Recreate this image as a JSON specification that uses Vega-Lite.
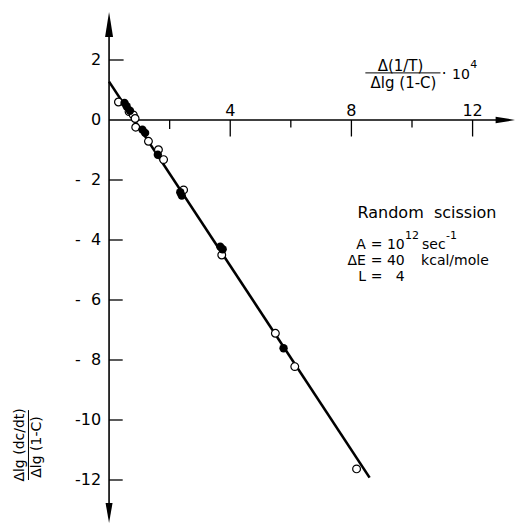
{
  "$schema": "https://vega.github.io/schema/vega-lite/v6.json",
  "width": 515,
  "height": 525,
  "padding": 0,
  "autosize": {"type": "none"},
  "background": "white",
  "config": {"view": {"stroke": null}, "font": "DejaVu Sans", "text": {"font": "DejaVu Sans", "color": "black"}},
  "datasets": {
    "axisLines": [
      {"x": 0, "y": 3.3, "x2": 0, "y2": -13.1},
      {"x": 0, "y": 0, "x2": 13.1, "y2": 0}
    ],
    "ticks": [
      {"x": 0, "y": 2, "x2": 0.48, "y2": 2},
      {"x": 0, "y": -2, "x2": 0.45, "y2": -2},
      {"x": 0, "y": -4, "x2": 0.45, "y2": -4},
      {"x": 0, "y": -6, "x2": 0.45, "y2": -6},
      {"x": 0, "y": -8, "x2": 0.45, "y2": -8},
      {"x": 0, "y": -10, "x2": 0.45, "y2": -10},
      {"x": 0, "y": -12, "x2": 0.45, "y2": -12},
      {"x": 4, "y": 0, "x2": 4, "y2": -0.55},
      {"x": 8, "y": 0, "x2": 8, "y2": -0.55},
      {"x": 12, "y": 0, "x2": 12, "y2": -0.55},
      {"x": 2, "y": 0, "x2": 2, "y2": -0.3},
      {"x": 6, "y": 0, "x2": 6, "y2": -0.25},
      {"x": 10, "y": 0, "x2": 10, "y2": -0.25}
    ],
    "fracBars": [
      {"x": 8.46, "y": 1.57, "x2": 10.94, "y2": 1.57},
      {"x": -2.66, "y": -9.67, "x2": -2.66, "y2": -12.0}
    ],
    "fitLine": [
      {"x": 0, "y": 1.28},
      {"x": 8.6, "y": -11.92}
    ],
    "openPts": [
      {"x": 0.31, "y": 0.60},
      {"x": 0.66, "y": 0.28},
      {"x": 0.80, "y": 0.17},
      {"x": 0.86, "y": 0.05},
      {"x": 0.88, "y": -0.24},
      {"x": 1.30, "y": -0.71},
      {"x": 1.63, "y": -0.99},
      {"x": 1.80, "y": -1.32},
      {"x": 2.46, "y": -2.33},
      {"x": 3.72, "y": -4.50},
      {"x": 5.49, "y": -7.11},
      {"x": 6.13, "y": -8.22},
      {"x": 8.17, "y": -11.63}
    ],
    "filledPts": [
      {"x": 0.51, "y": 0.57},
      {"x": 0.58, "y": 0.46},
      {"x": 0.69, "y": 0.31},
      {"x": 1.10, "y": -0.32},
      {"x": 1.19, "y": -0.43},
      {"x": 1.61, "y": -1.16},
      {"x": 2.35, "y": -2.41},
      {"x": 2.40, "y": -2.52},
      {"x": 3.67, "y": -4.22},
      {"x": 3.75, "y": -4.31},
      {"x": 5.76, "y": -7.61}
    ],
    "upArrow": [{"x": 0, "y": 3.6}],
    "downArrow": [{"x": 0, "y": -13.43}],
    "rightArrow": [{"x": 13.42, "y": 0}],
    "yLabels": [
      {"x": -0.26, "y": 2, "text": "2"},
      {"x": -0.26, "y": 0, "text": "0"},
      {"x": -0.26, "y": -2, "text": "-\u00a0\u00a02"},
      {"x": -0.26, "y": -4, "text": "-\u00a0\u00a04"},
      {"x": -0.26, "y": -6, "text": "-\u00a0\u00a06"},
      {"x": -0.26, "y": -8, "text": "-\u00a0\u00a08"},
      {"x": -0.26, "y": -10, "text": "-10"},
      {"x": -0.26, "y": -12, "text": "-12"}
    ],
    "xLabels": [
      {"x": 4, "y": 0.3, "text": "4"},
      {"x": 8, "y": 0.3, "text": "8"},
      {"x": 12, "y": 0.3, "text": "12"}
    ],
    "xTitle": [
      {"x": 9.62, "y": 1.8, "text": "Δ(1/T)"},
      {"x": 9.72, "y": 1.23, "text": "Δlg (1-C)"}
    ],
    "xTitleDot": [
      {"x": 10.98, "y": 1.55, "text": "·"}
    ],
    "xTitleTen": [
      {"x": 11.32, "y": 1.5, "text": "10"}
    ],
    "supers": [
      {"x": 11.92, "y": 1.85, "text": "4"},
      {"x": 9.77, "y": -3.88, "text": "12"},
      {"x": 11.12, "y": -3.88, "text": "-1"}
    ],
    "yTitle": [
      {"x": -2.94, "y": -10.83, "text": "Δlg (dc/dt)"},
      {"x": -2.38, "y": -10.9, "text": "Δlg (1-C)"}
    ],
    "heading": [
      {"x": 8.2, "y": -3.1, "text": "Random\u00a0\u00a0scission"}
    ],
    "paramLeft": [
      {"x": 8.48, "y": -4.15, "text": "A"},
      {"x": 8.48, "y": -4.69, "text": "ΔE"},
      {"x": 8.48, "y": -5.23, "text": "L"}
    ],
    "paramEq": [
      {"x": 8.83, "y": -4.15, "text": "="},
      {"x": 8.83, "y": -4.69, "text": "="},
      {"x": 8.83, "y": -5.23, "text": "="}
    ],
    "paramVal": [
      {"x": 9.76, "y": -4.15, "text": "10"},
      {"x": 9.76, "y": -4.69, "text": "40"},
      {"x": 9.76, "y": -5.23, "text": "4"}
    ],
    "paramUnit": [
      {"x": 10.33, "y": -4.15, "text": "sec"},
      {"x": 10.3, "y": -4.69, "text": "kcal/mole"}
    ]
  },
  "encoding": {
    "x": {"field": "x", "type": "quantitative", "scale": {"domain": [-3.6, 13.4], "nice": false, "zero": false}, "axis": null},
    "y": {"field": "y", "type": "quantitative", "scale": {"domain": [-13.5, 4], "nice": false, "zero": false}, "axis": null}
  },
  "layer": [
    {"data": {"name": "axisLines"}, "mark": {"type": "rule", "color": "black", "strokeWidth": 1.6}, "encoding": {"x2": {"field": "x2"}, "y2": {"field": "y2"}}},
    {"data": {"name": "ticks"}, "mark": {"type": "rule", "color": "black", "strokeWidth": 1.3}, "encoding": {"x2": {"field": "x2"}, "y2": {"field": "y2"}}},
    {"data": {"name": "fracBars"}, "mark": {"type": "rule", "color": "black", "strokeWidth": 1}, "encoding": {"x2": {"field": "x2"}, "y2": {"field": "y2"}}},
    {"data": {"name": "upArrow"}, "mark": {"type": "point", "shape": "M0,0L-0.32,2L0.32,2Z", "size": 625, "filled": true, "color": "black", "opacity": 1}},
    {"data": {"name": "downArrow"}, "mark": {"type": "point", "shape": "M0,0L-0.35,-2L0.35,-2Z", "size": 400, "filled": true, "color": "black", "opacity": 1}},
    {"data": {"name": "rightArrow"}, "mark": {"type": "point", "shape": "M0,0L-2,-0.33L-2,0.33Z", "size": 400, "filled": true, "color": "black", "opacity": 1}},
    {"data": {"name": "fitLine"}, "mark": {"type": "line", "color": "black", "strokeWidth": 2.6}},
    {"data": {"name": "openPts"}, "mark": {"type": "point", "shape": "circle", "size": 60, "filled": false, "fill": "white", "fillOpacity": 1, "stroke": "black", "strokeWidth": 1.2, "opacity": 1}},
    {"data": {"name": "filledPts"}, "mark": {"type": "point", "shape": "circle", "size": 70, "filled": true, "color": "black", "opacity": 1}},
    {"data": {"name": "yLabels"}, "mark": {"type": "text", "align": "right", "baseline": "middle", "fontSize": 16}, "encoding": {"text": {"field": "text"}}},
    {"data": {"name": "xLabels"}, "mark": {"type": "text", "align": "center", "baseline": "middle", "fontSize": 16}, "encoding": {"text": {"field": "text"}}},
    {"data": {"name": "xTitle"}, "mark": {"type": "text", "align": "center", "baseline": "middle", "fontSize": 15}, "encoding": {"text": {"field": "text"}}},
    {"data": {"name": "xTitleDot"}, "mark": {"type": "text", "align": "left", "baseline": "middle", "fontSize": 15}, "encoding": {"text": {"field": "text"}}},
    {"data": {"name": "xTitleTen"}, "mark": {"type": "text", "align": "left", "baseline": "middle", "fontSize": 14}, "encoding": {"text": {"field": "text"}}},
    {"data": {"name": "supers"}, "mark": {"type": "text", "align": "left", "baseline": "middle", "fontSize": 11}, "encoding": {"text": {"field": "text"}}},
    {"data": {"name": "yTitle"}, "mark": {"type": "text", "align": "center", "baseline": "middle", "fontSize": 14, "angle": 270}, "encoding": {"text": {"field": "text"}}},
    {"data": {"name": "heading"}, "mark": {"type": "text", "align": "left", "baseline": "middle", "fontSize": 16}, "encoding": {"text": {"field": "text"}}},
    {"data": {"name": "paramLeft"}, "mark": {"type": "text", "align": "right", "baseline": "middle", "fontSize": 14}, "encoding": {"text": {"field": "text"}}},
    {"data": {"name": "paramEq"}, "mark": {"type": "text", "align": "center", "baseline": "middle", "fontSize": 14}, "encoding": {"text": {"field": "text"}}},
    {"data": {"name": "paramVal"}, "mark": {"type": "text", "align": "right", "baseline": "middle", "fontSize": 14}, "encoding": {"text": {"field": "text"}}},
    {"data": {"name": "paramUnit"}, "mark": {"type": "text", "align": "left", "baseline": "middle", "fontSize": 14}, "encoding": {"text": {"field": "text"}}}
  ]
}
